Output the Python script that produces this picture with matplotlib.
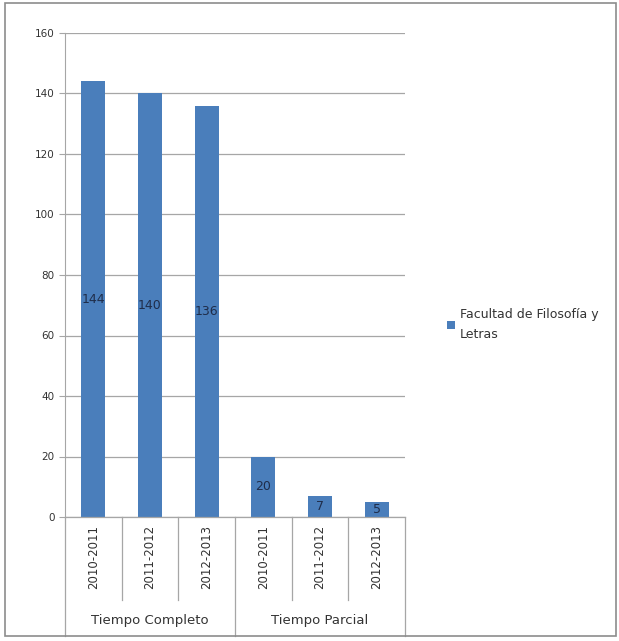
import matplotlib.pyplot as plt
from matplotlib.patches import Rectangle

# Datos
grupos = ["Tiempo Completo", "Tiempo Parcial"]
periodos = ["2010-2011", "2011-2012", "2012-2013"]
valores = [144, 140, 136, 20, 7, 5]
serie = "Facultad de Filosofía y\nLetras"

azul = "#4a7ebb"
gris = "#a6a6a6"
texto = "#333333"

fig = plt.figure(figsize=(6.19, 6.41), dpi=100)
ax = fig.add_axes([65 / 619, 1 - 517 / 641, 340 / 619, 484 / 641])

x = list(range(len(valores)))
barras = ax.bar(x, valores, width=0.42, color=azul, label=serie, zorder=3)
for xi, v in zip(x, valores):
    ax.text(xi, v / 2, str(v), ha="center", va="center", fontsize=9,
            color="#1f2d4a", zorder=4)

ax.set_xlim(-0.5, len(valores) - 0.5)
ax.set_ylim(0, 160)
ax.set_yticks(range(0, 161, 20))
ax.tick_params(axis="y", labelsize=7.5, colors=texto, length=4, color=gris, width=0.8)
ax.yaxis.grid(True, color=gris, linewidth=0.9, zorder=0)
ax.set_xticks([])
for lado in ["top", "right", "bottom"]:
    ax.spines[lado].set_visible(False)
ax.spines["left"].set_color(gris)
ax.spines["left"].set_zorder(5)

# eje de categorías en dos niveles
tr = ax.get_xaxis_transform()
ax.plot([-0.5, len(valores) - 0.5], [0, 0], color=gris, lw=0.9, transform=tr, clip_on=False, zorder=5)
n = len(periodos)
for i in range(len(valores) + 1):
    borde = i - 0.5
    bajo = -0.246 if i % n == 0 else -0.171
    ax.plot([borde, borde], [0, bajo], color=gris, lw=0.9, transform=tr, clip_on=False)
for i in x:
    ax.text(i, -0.083, periodos[i % n], rotation=90, ha="center", va="center",
            fontsize=8.5, color=texto, transform=tr)
for g, nombre in enumerate(grupos):
    ax.text(g * n + (n - 1) / 2, -0.213, nombre, ha="center", va="center",
            fontsize=9.5, color=texto, transform=tr)

leg = fig.legend(handles=[barras], labels=[serie], loc="upper left",
                 bbox_to_anchor=(436 / 619, 1 - 297 / 641), frameon=False,
                 fontsize=9, handlelength=0.6, handleheight=0.6, handletextpad=0.4,
                 labelcolor=texto)
for t in leg.get_texts():
    t.set_linespacing(1.7)

# marco exterior
fig.patches.append(Rectangle((5 / 619, 5 / 641), 611 / 619, 633 / 641,
                             transform=fig.transFigure, fill=False,
                             edgecolor="#8c8c8c", linewidth=1.2))

fig.savefig("out.png", dpi=100)
